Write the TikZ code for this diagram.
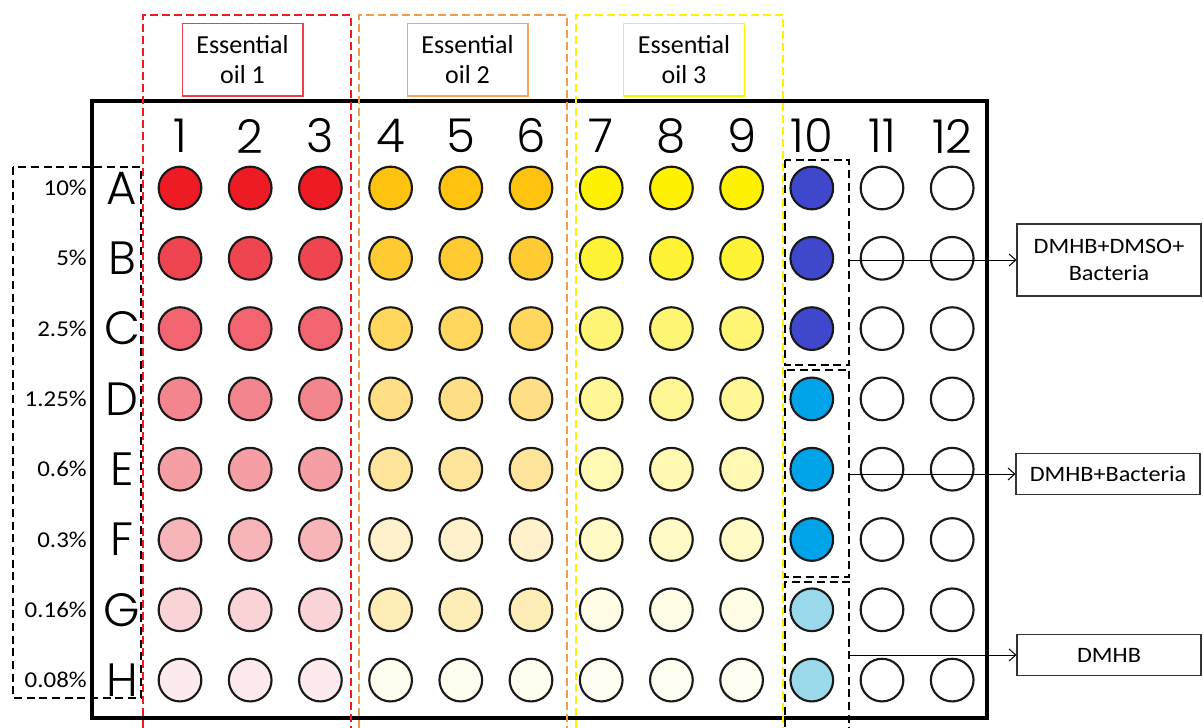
\documentclass[tikz,border=0pt]{standalone}
\usepackage{fontspec}
\setmainfont{Carlito}
\IfFontExistsTF{Poppins Light}{\newfontfamily\platefont{Poppins Light}}{%
  \IfFontExistsTF{DejaVu Sans ExtraLight}{\newfontfamily\platefont{DejaVu Sans ExtraLight}}{\newfontfamily\platefont{Poppins}}}
\newfontfamily\pctfont{Carlito}[FakeStretch=1.1]
\newfontfamily\lblfont{Carlito}[FakeStretch=1.1]
\usetikzlibrary{arrows.meta}
% well colours
\definecolor{red1}{HTML}{ED1C24}\definecolor{red2}{HTML}{EF4550}
\definecolor{red3}{HTML}{F16470}\definecolor{red4}{HTML}{F3858E}
\definecolor{red5}{HTML}{F59FA5}\definecolor{red6}{HTML}{F7B5BA}
\definecolor{red7}{HTML}{FAD3D7}\definecolor{red8}{HTML}{FDEAEC}
\definecolor{org1}{HTML}{FFC20F}\definecolor{org2}{HTML}{FFCB33}
\definecolor{org3}{HTML}{FFD65E}\definecolor{org4}{HTML}{FFDF86}
\definecolor{org5}{HTML}{FFE59C}\definecolor{org6}{HTML}{FFF1CC}
\definecolor{org7}{HTML}{FFEDB8}\definecolor{org8}{HTML}{FFFCF0}
\definecolor{yel1}{HTML}{FFF200}\definecolor{yel2}{HTML}{FFF336}
\definecolor{yel3}{HTML}{FFF574}\definecolor{yel4}{HTML}{FFF796}
\definecolor{yel5}{HTML}{FFF9B3}\definecolor{yel6}{HTML}{FFFAC6}
\definecolor{yel7}{HTML}{FFFDE6}\definecolor{yel8}{HTML}{FFFEF2}
\definecolor{blu1}{HTML}{3F48CC}\definecolor{blu2}{HTML}{3F48CC}
\definecolor{blu3}{HTML}{3F48CC}\definecolor{blu4}{HTML}{00A2E8}
\definecolor{blu5}{HTML}{00A2E8}\definecolor{blu6}{HTML}{00A2E8}
\definecolor{blu7}{HTML}{99D9EA}\definecolor{blu8}{HTML}{99D9EA}
\definecolor{gred}{HTML}{ED1C24}
\definecolor{gorg}{HTML}{F39A4C}
\definecolor{gyel}{HTML}{FFF200}
\definecolor{bred}{HTML}{E8414A}
\definecolor{borg}{HTML}{F5A65B}
\definecolor{byel}{HTML}{FFF200}
\tikzset{
  well/.style={circle,draw=black!90,line width=1.6pt,inner sep=0pt,minimum size=32pt},
  colnum/.style={font=\platefont\fontsize{35}{35}\selectfont,inner sep=0pt},
  rowlet/.style={font=\platefont\fontsize{35}{35}\selectfont,inner sep=0pt},
  pct/.style={font=\pctfont\fontsize{17}{19}\selectfont,inner sep=0pt,anchor=east},
  oilbox/.style={draw,line width=1pt,align=center,inner sep=0pt,
     minimum width=90.5pt,minimum height=54.5pt,
     font=\fontsize{19.5}{22}\selectfont},
  infobox/.style={draw=black!80,line width=0.8pt,align=center,inner sep=0pt,
     minimum width=138pt,font=\lblfont\fontsize{16.5}{20}\selectfont},
  groupline/.style={dash pattern=on 6pt off 3pt,line width=2.2pt},
  blackdash/.style={draw=black,dash pattern=on 6pt off 3.5pt,line width=2.1pt},
  pointer/.style={line width=0.75pt,-{Straight Barb[length=5pt,width=9pt]}}
}
\begin{document}
\begin{tikzpicture}[x=0.75pt,y=-0.75pt]
\useasboundingbox (0,0) rectangle (1203,728);
\fill[white] (0,0) rectangle (1203,728);
% plate
\draw[line width=3pt] (92,101) rectangle (987,718);
% column numbers
\foreach \c in {1,...,12}{
  \pgfmathsetmacro\gx{180+70.2*(\c-1)}
  \node[colnum] (n\c) at (\gx,136) {\c};
}
% rows
\foreach \r/\L/\P in {1/A/10\%,2/B/5\%,3/C/2.5\%,4/D/1.25\%,5/E/0.6\%,6/F/0.3\%,7/G/0.16\%,8/H/0.08\%}{
  \pgfmathsetmacro\gy{188+70.3*(\r-1)}
  \node[rowlet] (L\L) at (122,\gy) {\L};
  \node[pct] (p\L) at (87,\gy) {\P};
  \foreach \c in {1,...,12}{
    \pgfmathsetmacro\gx{180+70.2*(\c-1)}
    \ifnum\c<4 \def\fc{red\r}\else\ifnum\c<7 \def\fc{org\r}\else\ifnum\c<10 \def\fc{yel\r}\else\ifnum\c=10 \def\fc{blu\r}\else\def\fc{white}\fi\fi\fi\fi
    \node[well,fill=\fc] (w\L\c) at (\gx,\gy) {};
  }
}
% group frames
\draw[groupline,draw=gred] (143,740) -- (143,15) -- (351,15) -- (351,740);
\draw[groupline,draw=gorg] (359,740) -- (359,15) -- (567,15) -- (567,740);
\draw[groupline,draw=gyel] (576,740) -- (576,15) -- (783,15) -- (783,740);
% oil labels
\node[oilbox,draw=bred] (oil1) at (242.5,59.5) {Essential\\oil 1};
\node[oilbox,draw=borg] (oil2) at (467.5,59.5) {Essential\\oil 2};
\node[oilbox,draw=byel] (oil3) at (684,59.5) {Essential\\oil 3};
% concentration frame
\draw[blackdash] (13,167) rectangle (141,698);
% control frames
\draw[blackdash] (785,160) rectangle (849,365);
\draw[blackdash] (785,370) rectangle (849,577);
\draw[blackdash] (785,740) -- (785,582) -- (849,582) -- (849,740);
% info boxes
\node[infobox,minimum height=54pt] (b1) at (1109,260) {DMHB+DMSO+\\Bacteria};
\node[infobox,minimum height=31pt] (b2) at (1108,474) {DMHB+Bacteria};
\node[infobox,minimum height=31pt] (b3) at (1109,655) {DMHB};
\coordinate (s1) at (849,260);
\coordinate (s2) at (849,474);
\coordinate (s3) at (849,655);
\draw[pointer] (s1) -- (b1.west);
\draw[pointer] (s2) -- (b2.west);
\draw[pointer] (s3) -- (b3.west);
\end{tikzpicture}
\end{document}
